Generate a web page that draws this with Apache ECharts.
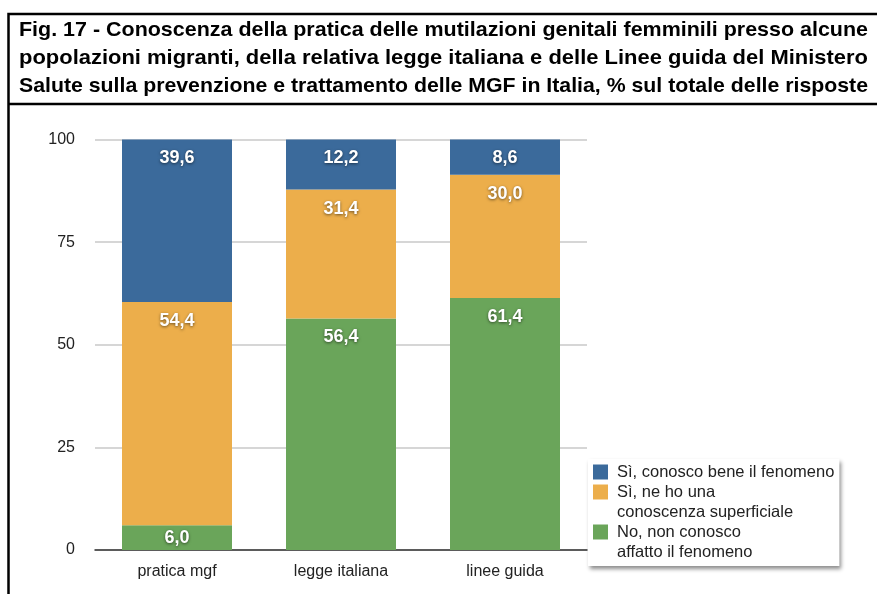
<!DOCTYPE html>
<html>
<head>
<meta charset="utf-8">
<script src="https://cdn.jsdelivr.net/npm/echarts@6/dist/echarts.min.js"></script>
<style>
  html, body { margin: 0; padding: 0; background: #fff; }
  #chart { width: 877px; height: 594px; }
</style>
</head>
<body>
<div id="chart"></div>
<script>
// dati
var titleLines = [
    'Fig. 17 - Conoscenza della pratica delle mutilazioni genitali femminili presso alcune',
    'popolazioni migranti, della relativa legge italiana e delle Linee guida del Ministero',
    'Salute sulla prevenzione e trattamento delle MGF in Italia, % sul totale delle risposte'
];
var categories = ['pratica mgf', 'legge italiana', 'linee guida'];
var noValues = [6.0, 56.4, 61.4];
var superficialeValues = [54.4, 31.4, 30.0];
var beneValues = [39.6, 12.2, 8.6];
var yTicks = [0, 25, 50, 75, 100];
var seriesNames = ['bene', 'superficiale', 'no'];
var legendLabels = {
    bene: 'Sì, conosco bene il fenomeno',
    superficiale: '\nSì, ne ho una\nconoscenza superficiale',
    no: '\nNo, non conosco\naffatto il fenomeno'
};

var colors = { bene: '#3b6a9b', superficiale: '#ecae4b', no: '#6aa55a' };

var chart = echarts.init(document.getElementById('chart'));

// titolo giustificato: ogni riga viene allargata fino alla larghezza del riquadro
var titleFont = 'bold 21px "Liberation Sans Narrow", "Liberation Sans", sans-serif';
var ctx = document.createElement('canvas').getContext('2d');
ctx.font = titleFont;
var titleLeft = 19, titleRight = 868, titleY = [30.5, 58.5, 86.5];
var titleGraphics = titleLines.map(function (line, i) {
    var w = ctx.measureText(line).width;
    return {
        type: 'text',
        x: titleLeft,
        y: titleY[i],
        scaleX: (titleRight - titleLeft) / w,
        style: {
            text: line,
            font: titleFont,
            fill: '#000',
            align: 'left',
            verticalAlign: 'middle'
        }
    };
});

function fmt(v) {
    return v.toFixed(1).replace('.', ',');
}

// la barra più bassa ha l'etichetta centrata
function makeData(values) {
    return values.map(function (v) {
        if (v < 7) {
            return { value: v, label: { position: 'inside' } };
        }
        return v;
    });
}

function makeSeries(key, values) {
    return {
        name: key,
        type: 'bar',
        stack: 'tot',
        barWidth: 110,
        itemStyle: { color: colors[key] },
        label: {
            show: true,
            position: 'insideTop',
            distance: 10,
            color: '#fff',
            fontFamily: 'Liberation Sans, Arial, sans-serif',
            fontWeight: 'bold',
            fontSize: 18,
            textShadowColor: 'rgba(0,0,0,0.55)',
            textShadowBlur: 3,
            textShadowOffsetY: 1,
            formatter: function (p) { return fmt(p.value); }
        },
        data: makeData(values)
    };
}

var option = {
    animation: false,
    textStyle: { fontFamily: 'Liberation Sans, Arial, sans-serif' },
    graphic: titleGraphics.concat([
        {
            type: 'polyline',
            shape: { points: [[877, 14], [8.5, 14], [8.5, 594]] },
            style: { stroke: '#000', lineWidth: 2.5, fill: null }
        },
        {
            type: 'line',
            shape: { x1: 8.5, y1: 104, x2: 877, y2: 104 },
            style: { stroke: '#000', lineWidth: 2.5 }
        }
    ]),
    grid: {
        left: 95,
        right: 290,
        top: 139.5,
        bottom: 44
    },
    legend: {
        orient: 'vertical',
        left: 588,
        top: 459,
        data: seriesNames,
        formatter: function (name) { return legendLabels[name]; },
        icon: 'rect',
        itemWidth: 15,
        itemHeight: 15,
        itemGap: -20,
        padding: [3, 5, 4, 5],
        backgroundColor: '#fff',
        shadowColor: 'rgba(0,0,0,0.45)',
        shadowBlur: 4,
        shadowOffsetX: 2,
        shadowOffsetY: 3,
        textStyle: {
            fontSize: 16.5,
            lineHeight: 20,
            color: '#222',
            padding: [0, 0, 0, 4]
        }
    },
    xAxis: {
        type: 'category',
        data: categories,
        axisTick: { show: false },
        axisLine: { lineStyle: { color: '#333', width: 1.5 } },
        axisLabel: { fontSize: 16, color: '#222', margin: 14 }
    },
    yAxis: {
        type: 'value',
        min: yTicks[0],
        max: yTicks[yTicks.length - 1],
        interval: yTicks[1] - yTicks[0],
        axisLine: { show: false },
        axisTick: { show: false },
        axisLabel: { fontSize: 16, color: '#222', margin: 20 },
        splitLine: { lineStyle: { color: '#c8c8c8', width: 1.5 } }
    },
    series: [
        makeSeries('no', noValues),
        makeSeries('superficiale', superficialeValues),
        makeSeries('bene', beneValues)
    ]
};

chart.setOption(option);
</script>
</body>
</html>
